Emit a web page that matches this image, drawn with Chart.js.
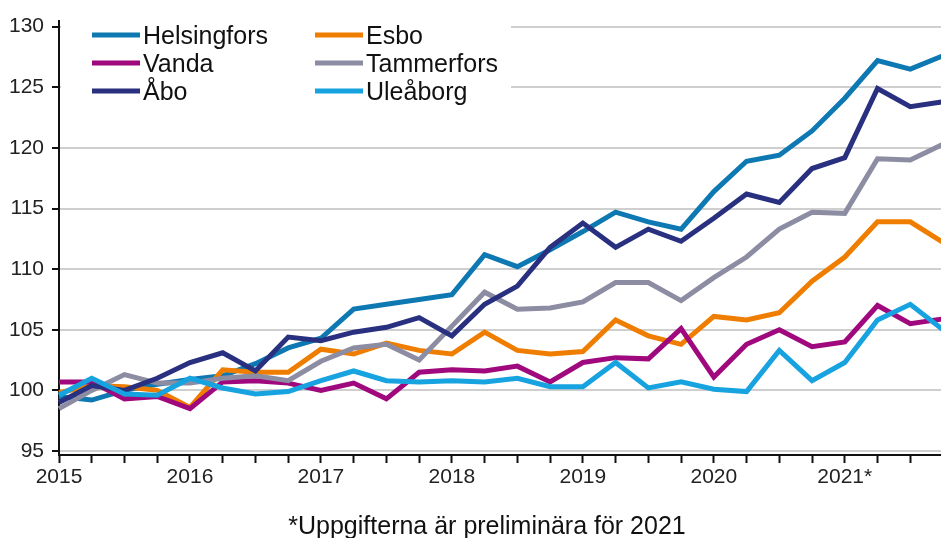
<!DOCTYPE html>
<html>
<head>
    <meta charset="utf-8">
    <title>Bostadspriser</title>
    <script src="https://cdn.jsdelivr.net/npm/chart.js"></script>
    <style>
        body { margin: 0; overflow: hidden; background: #fff; }
    </style>
</head>
<body>
    <canvas id="myChart" width="945" height="538"></canvas>

<script>
    // kvartal 2015Q1 - 2021Q4
    const quarters = [
        '2015Q1', '2015Q2', '2015Q3', '2015Q4',
        '2016Q1', '2016Q2', '2016Q3', '2016Q4',
        '2017Q1', '2017Q2', '2017Q3', '2017Q4',
        '2018Q1', '2018Q2', '2018Q3', '2018Q4',
        '2019Q1', '2019Q2', '2019Q3', '2019Q4',
        '2020Q1', '2020Q2', '2020Q3', '2020Q4',
        '2021Q1', '2021Q2', '2021Q3', '2021Q4'
    ];
    const yearLabels = ['2015', '2016', '2017', '2018', '2019', '2020', '2021*'];
    const yTicks = [95, 100, 105, 110, 115, 120, 125, 130];

    const helsingfors = [99.5, 99.2, 100.0, 100.5, 100.9, 101.2, 102.2, 103.5, 104.3, 106.7, 107.1, 107.5, 107.9, 111.2,
                         110.2, 111.6, 113.1, 114.7, 113.9, 113.3, 116.4, 118.9, 119.4, 121.4, 124.1, 127.2, 126.5, 127.6];
    const esbo = [99.8, 100.4, 100.3, 100.0, 98.6, 101.7, 101.5, 101.5, 103.4, 103.0, 103.9, 103.3, 103.0, 104.8,
                  103.3, 103.0, 103.2, 105.8, 104.5, 103.8, 106.1, 105.8, 106.4, 109.0, 111.0, 113.9, 113.9, 112.2];
    const vanda = [100.7, 100.7, 99.3, 99.5, 98.5, 100.7, 100.8, 100.6, 100.0, 100.6, 99.3, 101.5, 101.7, 101.6,
                   102.0, 100.7, 102.3, 102.7, 102.6, 105.1, 101.1, 103.8, 105.0, 103.6, 104.0, 107.0, 105.5, 105.9];
    const tammerfors = [98.5, 100.0, 101.3, 100.6, 100.6, 101.0, 101.2, 100.8, 102.4, 103.5, 103.8, 102.5, 105.3, 108.1,
                        106.7, 106.8, 107.3, 108.9, 108.9, 107.4, 109.3, 111.0, 113.3, 114.7, 114.6, 119.1, 119.0, 120.3];
    const abo = [99.0, 100.4, 100.0, 101.0, 102.3, 103.1, 101.6, 104.4, 104.1, 104.8, 105.2, 106.0, 104.5, 107.1,
                 108.6, 111.8, 113.8, 111.8, 113.3, 112.3, 114.2, 116.2, 115.5, 118.3, 119.2, 124.9, 123.4, 123.8];
    const uleaborg = [99.6, 101.0, 99.7, 99.6, 101.0, 100.2, 99.7, 99.9, 100.8, 101.6, 100.8, 100.7, 100.8, 100.7,
                      101.0, 100.3, 100.3, 102.3, 100.2, 100.7, 100.1, 99.9, 103.3, 100.8, 102.3, 105.8, 107.1, 105.0];

    const names = ['Helsingfors', 'Esbo', 'Vanda', 'Tammerfors', 'Åbo', 'Uleåborg'];
    const series = [helsingfors, esbo, vanda, tammerfors, abo, uleaborg];
    const colors = ['#0e78b2', '#ef7d00', '#a0087e', '#8c8ca3', '#29307f', '#17a2e0'];

    const note = '*Uppgifterna är preliminära för 2021';
    const fontName = '"Liberation Sans", Arial, sans-serif';

    // legend in two columns + note under the chart
    const legendAndNote = {
        id: 'legendAndNote',
        beforeDatasetsDraw(chart) {
            const ctx = chart.ctx;
            ctx.save();
            ctx.fillStyle = '#fff';
            ctx.fillRect(61, 19, 450, 86);
            chart.data.datasets.forEach((ds, i) => {
                const x = (i % 2 === 0) ? 92 : 315;
                const y = 35 + Math.floor(i / 2) * 28;
                ctx.strokeStyle = ds.borderColor;
                ctx.lineWidth = 5;
                ctx.beginPath();
                ctx.moveTo(x, y);
                ctx.lineTo(x + 48, y);
                ctx.stroke();
                ctx.fillStyle = '#111';
                ctx.font = '25px ' + fontName;
                ctx.textAlign = 'left';
                ctx.textBaseline = 'alphabetic';
                ctx.fillText(ds.label, x + 51, y + 9);
            });
            ctx.restore();
        },
        afterDraw(chart) {
            const ctx = chart.ctx;
            ctx.save();
            ctx.fillStyle = '#111';
            ctx.font = '25px ' + fontName;
            ctx.textAlign = 'center';
            ctx.textBaseline = 'alphabetic';
            ctx.fillText(note, 487, 534);
            ctx.restore();
        }
    };

    const ctx = document.getElementById('myChart').getContext('2d');
    const myChart = new Chart(ctx, {
        type: 'line',
        data: {
            labels: quarters,
            datasets: series.map((data, i) => ({
                label: names[i],
                data: data,
                borderColor: colors[i],
                backgroundColor: colors[i],
                borderWidth: 5,
                pointRadius: 0,
                tension: 0,
                order: series.length - i,
            })),
        },
        options: {
            responsive: false,
            animation: false,
            layout: {
                padding: { top: 18, right: 1, left: 0, bottom: 0 },
            },
            plugins: {
                legend: { display: false },
                tooltip: { enabled: false },
            },
            scales: {
                x: {
                    offset: false,
                    grid: {
                        drawOnChartArea: false,
                        drawTicks: true,
                        tickLength: 8,
                        tickWidth: 2,
                        tickColor: '#111',
                    },
                    border: { color: '#111', width: 2 },
                    ticks: {
                        autoSkip: false,
                        maxRotation: 0,
                        padding: 2,
                        color: '#222',
                        font: { family: fontName, size: 21 },
                        callback: (value, index) => (index % 4 === 0 ? yearLabels[index / 4] : ''),
                    },
                    afterFit: (scale) => { scale.height = 83; },
                },
                y: {
                    min: 94.67,
                    max: 130.5,
                    grid: {
                        color: '#cfcfcf',
                        lineWidth: 2,
                        tickLength: 7,
                        tickWidth: 2,
                        tickColor: '#111',
                    },
                    border: { color: '#111', width: 2 },
                    ticks: {
                        padding: 8,
                        color: '#222',
                        font: { family: fontName, size: 21 },
                    },
                    afterBuildTicks: (scale) => { scale.ticks = yTicks.map(v => ({ value: v })); },
                    afterFit: (scale) => { scale.width = 59; },
                },
            },
        },
        plugins: [legendAndNote],
    });
</script>
</body>
</html>
